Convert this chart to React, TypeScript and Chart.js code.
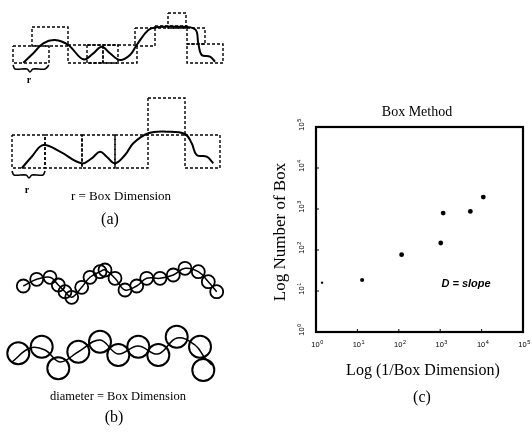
import React, { useEffect, useRef } from "react";
import { Chart, registerables } from "chart.js";

Chart.register(...registerables);

// ---------------- Panel (c): Box Method data ----------------
const inverseBoxSize = [1.4, 13, 117, 1030, 1180, 5350, 11000];
const boxCounts = [16, 18.6, 77, 148, 795, 875, 1950];
const decadeTicks = [1, 10, 100, 1000, 10000, 100000];
const tickExponents = ["0", "1", "2", "3", "4", "5"];
const chartTitle = "Box Method";
const xAxisTitle = "Log (1/Box Dimension)";
const yAxisTitle = "Log Number of Box";
const slopeNote = "D = slope";

// ---------------- Panels (a) and (b): sketch data (sketch units) ----------------
const curveA1X = [23.3, 33.3, 43.3, 55, 68.3, 83.3, 93.3, 101.7, 110, 120, 130, 136.7, 148.3, 156.7, 176.7, 195, 198.3, 201.7, 210, 215];
const curveA1Y = [62.7, 53.3, 43.3, 40, 45, 59.3, 53.3, 46.7, 53.3, 60, 55, 45, 30, 27.3, 26.7, 29.3, 43.3, 55, 56.7, 61.7];
const boxesA1 = [
  [13, 49, 46, 63], [32, 68, 27, 46], [68, 103, 45, 63], [87, 118, 45, 63],
  [103, 137, 45, 63], [135, 155, 28, 46], [155, 187, 26, 28], [168, 186, 13, 28],
  [187, 205, 28, 44], [187, 223, 44, 63],
];
const braceA1X = [13, 15, 27, 30, 33, 45, 49];
const braceA1Y = [65, 69, 69, 72, 69, 69, 65];

const curveA2X = [21.7, 31.7, 43.3, 60, 81.7, 91.7, 100, 106.7, 115, 125, 133.3, 148.3, 166.7, 185, 191.7, 196.7, 206.7, 213.3];
const curveA2Y = [168.3, 156.7, 145, 151.7, 163.3, 158.3, 151.7, 156.7, 163.3, 155, 143.3, 133.3, 131.7, 134, 143.3, 155, 156.7, 163.3];
const boxesA2 = [
  [12, 45, 135, 168], [45, 82, 135, 168], [82, 115, 135, 168], [115, 148, 135, 168],
  [148, 185, 98, 135], [185, 220, 135, 168],
];
const braceA2X = [12, 14, 26, 29, 32, 43, 45];
const braceA2Y = [171, 175, 175, 178, 175, 175, 171];

const circlesB1X = [23.3, 36.7, 50, 58.3, 65, 71.7, 81.7, 90, 100, 105, 115, 125, 136.7, 146.7, 160, 173.3, 185, 198.3, 208.3, 216.7];
const circlesB1Y = [286, 279.3, 277.3, 285, 291.7, 297.3, 287.3, 277.3, 271.7, 270, 278.3, 290, 286, 278.3, 278.3, 275, 268.3, 271.7, 281.7, 291.7];
const circlesB2X = [18.3, 41.7, 58.3, 78.3, 100, 118.3, 138.3, 158.3, 176.7, 200, 203.3];
const circlesB2Y = [353.3, 346.7, 368.3, 351.7, 341.7, 355, 346.7, 355, 336.7, 346.7, 370];
const waveB2X = [12, 30, 45, 60, 78, 100, 118, 138, 158, 177, 195, 205, 212];
const waveB2Y = [362, 348, 350, 362, 352, 340, 354, 346, 354, 338, 345, 358, 365];

const labelA = "(a)";
const labelB = "(b)";
const labelC = "(c)";
const labelR = "r";
const captionA = "r = Box Dimension";
const captionB = "diameter = Box Dimension";

const SERIF = "'Liberation Serif', 'DejaVu Serif', serif";
const SANS = "'Liberation Sans', Arial, sans-serif";

const toPoints = (xs: number[], ys: number[]) => xs.map((x, i) => ({ x, y: ys[i] }));
const boxPoints = (b: number[]) => [
  { x: b[0], y: b[2] }, { x: b[1], y: b[2] }, { x: b[1], y: b[3] }, { x: b[0], y: b[3] }, { x: b[0], y: b[2] },
];

function drawPow(ctx: CanvasRenderingContext2D, cx: number, cy: number, exp: string) {
  ctx.font = `7.5px ${SANS}`;
  const w1 = ctx.measureText("10").width;
  ctx.font = `5.5px ${SANS}`;
  const w2 = ctx.measureText(exp).width;
  const start = cx - (w1 + w2) / 2;
  ctx.textAlign = "left";
  ctx.textBaseline = "middle";
  ctx.font = `7.5px ${SANS}`;
  ctx.fillText("10", start, cy);
  ctx.font = `5.5px ${SANS}`;
  ctx.fillText(exp, start + w1 + 0.5, cy - 3);
}

const boxDecor = {
  id: "boxDecor",
  afterDatasetsDraw(chart: any) {
    const { ctx, chartArea: a, scales } = chart;
    const xs = scales.x;
    const ys = scales.y;
    ctx.save();
    ctx.fillStyle = "#000";
    ctx.strokeStyle = "#000";
    ctx.lineWidth = 2.2;
    ctx.strokeRect(a.left, a.top, a.right - a.left, a.bottom - a.top);
    ctx.lineWidth = 1;
    decadeTicks.forEach((v, i) => {
      const px = xs.getPixelForValue(v);
      const py = ys.getPixelForValue(v);
      ctx.beginPath();
      ctx.moveTo(px, a.bottom);
      ctx.lineTo(px, a.bottom - 3);
      ctx.moveTo(a.left, py);
      ctx.lineTo(a.left + 3, py);
      ctx.stroke();
      drawPow(ctx, px + 1, a.bottom + 13, tickExponents[i]);
      ctx.save();
      ctx.translate(a.left - 14, py - 2);
      ctx.rotate(-Math.PI / 2);
      drawPow(ctx, 0, 0, tickExponents[i]);
      ctx.restore();
    });
    ctx.textAlign = "center";
    ctx.textBaseline = "middle";
    ctx.font = `14px ${SERIF}`;
    ctx.fillText(chartTitle, 151, 112);
    ctx.font = `16px ${SERIF}`;
    ctx.fillText(xAxisTitle, 157, 371);
    ctx.font = `16px ${SERIF}`;
    ctx.fillText(labelC, 156, 398);
    ctx.save();
    ctx.translate(15, 232);
    ctx.rotate(-Math.PI / 2);
    ctx.font = `17px ${SERIF}`;
    ctx.fillText(yAxisTitle, 0, 0);
    ctx.restore();
    ctx.font = `italic bold 11px ${SANS}`;
    ctx.fillText(slopeNote, 200, 284);
    ctx.restore();
  },
};

const sketchText = {
  id: "sketchText",
  afterDatasetsDraw(chart: any) {
    const { ctx } = chart;
    ctx.save();
    ctx.fillStyle = "#000";
    ctx.textAlign = "center";
    ctx.textBaseline = "middle";
    ctx.font = `bold 10px ${SERIF}`;
    ctx.fillText(labelR, 29, 80);
    ctx.fillText(labelR, 27, 190);
    ctx.font = `13px ${SERIF}`;
    ctx.fillText(captionA, 121, 197);
    ctx.font = `16px ${SERIF}`;
    ctx.fillText(labelA, 110, 220);
    ctx.font = `12.5px ${SERIF}`;
    ctx.fillText(captionB, 118, 397);
    ctx.font = `16px ${SERIF}`;
    ctx.fillText(labelB, 114, 418);
    ctx.restore();
  },
};

export default function App() {
  const leftRef = useRef<HTMLCanvasElement>(null);
  const rightRef = useRef<HTMLCanvasElement>(null);

  useEffect(() => {
    const lineStyle = { showLine: true, pointRadius: 0, borderColor: "#000", fill: false };
    const dashed = (b: number[]) => ({
      ...lineStyle,
      data: boxPoints(b),
      borderWidth: 1.4,
      borderDash: [3, 2],
      tension: 0,
    });
    const left = new Chart(leftRef.current!, {
      type: "scatter",
      data: {
        datasets: [
          { ...lineStyle, data: toPoints(curveA1X, curveA1Y), borderWidth: 2, tension: 0.4 },
          { ...lineStyle, data: toPoints(curveA2X, curveA2Y), borderWidth: 2, tension: 0.4 },
          { ...lineStyle, data: toPoints(braceA1X, braceA1Y), borderWidth: 1.6, tension: 0.3 },
          { ...lineStyle, data: toPoints(braceA2X, braceA2Y), borderWidth: 1.6, tension: 0.3 },
          ...boxesA1.map(dashed),
          ...boxesA2.map(dashed),
          { ...lineStyle, data: toPoints(circlesB1X, circlesB1Y), borderWidth: 1.5, tension: 0.4 },
          { ...lineStyle, data: toPoints(waveB2X, waveB2Y), borderWidth: 1.5, tension: 0.4 },
          {
            data: toPoints(circlesB1X, circlesB1Y),
            pointRadius: 6.5,
            pointBorderWidth: 1.8,
            pointBorderColor: "#000",
            pointBackgroundColor: "rgba(0,0,0,0)",
            showLine: false,
          },
          {
            data: toPoints(circlesB2X, circlesB2Y),
            pointRadius: 11,
            pointBorderWidth: 2,
            pointBorderColor: "#000",
            pointBackgroundColor: "rgba(0,0,0,0)",
            showLine: false,
          },
        ] as any,
      },
      options: {
        animation: false,
        responsive: false,
        events: [],
        layout: { padding: 0, autoPadding: false },
        plugins: { legend: { display: false }, tooltip: { enabled: false } },
        scales: {
          x: { type: "linear", min: 0, max: 266, display: false },
          y: { type: "linear", min: 0, max: 444, reverse: true, display: false },
        },
      },
      plugins: [sketchText],
    });

    const right = new Chart(rightRef.current!, {
      type: "scatter",
      data: {
        datasets: [
          {
            data: toPoints(inverseBoxSize, boxCounts),
            pointRadius: [1.2, 2, 2.4, 2.4, 2.4, 2.4, 2.4],
            pointBackgroundColor: "#000",
            pointBorderColor: "#000",
            pointBorderWidth: 0,
          },
        ],
      },
      options: {
        animation: false,
        responsive: false,
        events: [],
        layout: { padding: { left: 50, top: 127, right: 9, bottom: 112 }, autoPadding: false },
        plugins: { legend: { display: false }, tooltip: { enabled: false } },
        scales: {
          x: { type: "logarithmic", min: 1, max: 100000, display: false },
          y: { type: "logarithmic", min: 1, max: 100000, display: false },
        },
      },
      plugins: [boxDecor],
    });

    return () => {
      left.destroy();
      right.destroy();
    };
  }, []);

  return (
    <div style={{ position: "absolute", left: 0, top: 0, width: 532, height: 444, background: "#fff" }}>
      <canvas ref={leftRef} width={266} height={444} style={{ position: "absolute", left: 0, top: 0 }} />
      <canvas ref={rightRef} width={266} height={444} style={{ position: "absolute", left: 266, top: 0 }} />
    </div>
  );
}
